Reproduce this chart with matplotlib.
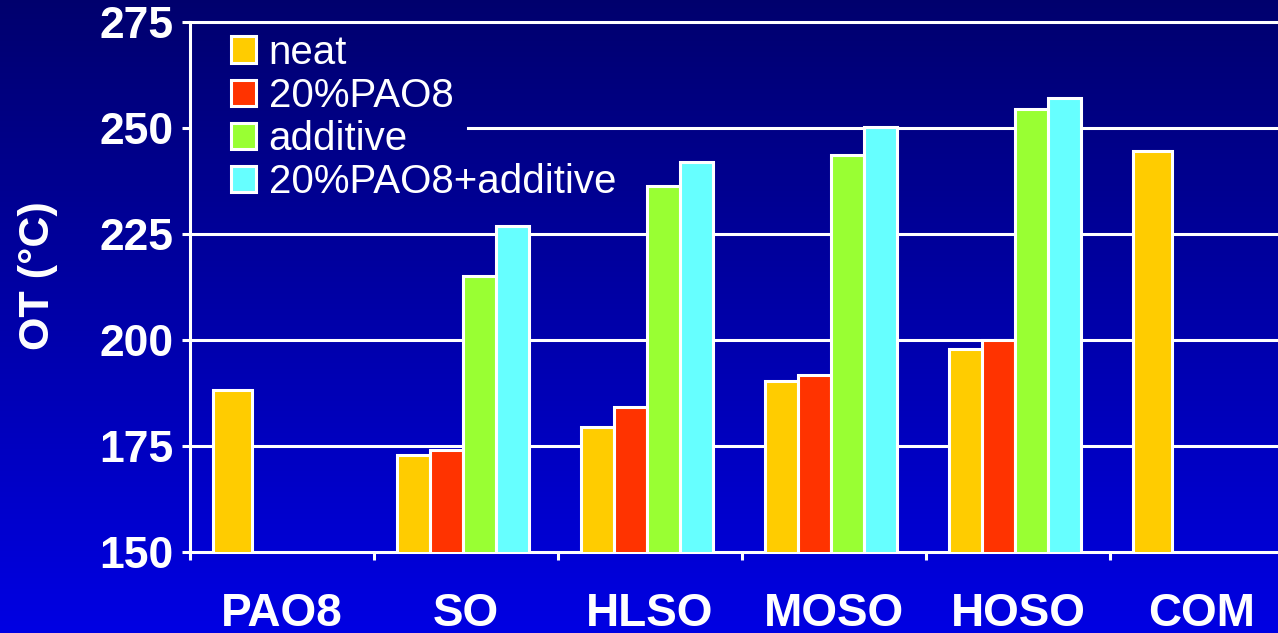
import numpy as np
import matplotlib
matplotlib.use("Agg")
import matplotlib.pyplot as plt

plt.rcParams["font.family"] = ["Liberation Sans", "DejaVu Sans"]

# data
categories = ["PAO8", "SO", "HLSO", "MOSO", "HOSO", "COM"]
series_names = ["neat", "20%PAO8", "additive", "20%PAO8+additive"]
neat = [188.3, 172.8, 179.5, 190.3, 197.9, 244.6]
pao8_20 = [None, 174.0, 184.2, 191.7, 200.1, None]
additive = [None, 215.2, 236.3, 243.6, 254.5, None]
pao8_additive = [None, 226.9, 242.0, 250.3, 257.1, None]
series_values = [neat, pao8_20, additive, pao8_additive]
colors = ["#FFCC00", "#FF3300", "#99FF33", "#66FFFF"]
yticks = [150, 175, 200, 225, 250, 275]

W, H = 1278, 633
fig = plt.figure(figsize=(W / 100, H / 100), dpi=100)

# background gradient, dark navy at top to bright blue at bottom
bg = fig.add_axes([0, 0, 1, 1], zorder=-10)
top_rgb = np.array([0.0, 0.0, 0.43])
bot_rgb = np.array([0.0, 0.0, 0.89])
t = np.linspace(0, 1, 256)[:, None]
grad = (top_rgb * (1 - t) + bot_rgb * t)[:, None, :]
bg.imshow(grad, aspect="auto", extent=[0, 1, 0, 1])
bg.axis("off")

ax = fig.add_axes([190 / W, 81 / H, 6 * 184 / W, 530 / H])
ax.patch.set_alpha(0)

bar_w = 0.18
single_w = 0.21
start = 0.125
handles = []
for i, (name, vals, c) in enumerate(zip(series_names, series_values, colors)):
    xs, hs, ws = [], [], []
    for j, v in enumerate(vals):
        if v is None:
            continue
        n_present = sum(s[j] is not None for s in series_values)
        xs.append(j + start + i * bar_w)
        hs.append(v)
        ws.append(single_w if n_present == 1 else bar_w)
    b = ax.bar(xs, hs, width=ws, align="edge", color=c, edgecolor="white",
               linewidth=2.2, zorder=3, label=name)
    handles.append(b)

ax.set_xlim(0, 6)
ax.set_ylim(150, 275)

# gridlines (250 line partly hidden behind the legend in the original)
for v in yticks[1:-1]:
    xmin = 0.252 if v == 250 else 0
    ax.axhline(v, xmin=xmin, xmax=1, color="white", lw=2.2, zorder=1)

for side in ["left", "bottom", "top"]:
    ax.spines[side].set_color("white")
    ax.spines[side].set_linewidth(2.2)
ax.spines["right"].set_visible(False)

ax.set_yticks(yticks)
ax.set_yticklabels([str(v) for v in yticks], fontsize=32, fontweight="bold",
                   color="white")
ax.tick_params(axis="y", colors="white", length=6, width=2.2, pad=6)

ax.set_xticks(np.arange(0, 7))
ax.set_xticklabels([])
ax.tick_params(axis="x", which="major", colors="white", length=6, width=2.2)
ax.set_xticks(np.arange(len(categories)) + 0.5, minor=True)
ax.set_xticklabels(categories, minor=True, fontsize=33, fontweight="bold",
                   color="white")
ax.tick_params(axis="x", which="minor", length=0, pad=28.5, colors="white")

fig.text(38 / W, 1 - 276 / H, "OT (°C)", rotation=90, fontsize=31,
         fontweight="bold", color="white", ha="center", va="center")

leg = ax.legend(handles=handles, loc="upper left",
                bbox_to_anchor=(0.037, 0.978), frameon=False, fontsize=29,
                handlelength=0.62, handleheight=0.62, handletextpad=0.32,
                labelspacing=0.13, borderpad=0, borderaxespad=0)
for txt in leg.get_texts():
    txt.set_color("white")

fig.savefig("out.png", dpi=100)
